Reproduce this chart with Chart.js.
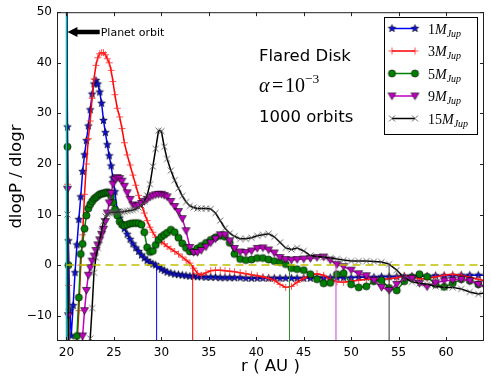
<!DOCTYPE html>
<html>
<head>
<meta charset="utf-8">
<script src="https://cdn.jsdelivr.net/npm/chart.js@4.4.1/dist/chart.umd.min.js"></script>
<style>
  html, body { margin: 0; padding: 0; background: #fff; }
  #wrap { width: 491px; height: 383px; }
</style>
</head>
<body>
<div id="wrap"><canvas id="c" width="491" height="383"></canvas></div>
<script>
// radius grid (AU), shared by all curves
const rGrid = [
  20.0, 20.1, 20.2, 20.35, 20.5, 20.7, 20.9, 21.1, 21.3, 21.5,
  21.7, 21.9, 22.1, 22.3, 22.5, 22.7, 22.9, 23.1, 23.3, 23.5,
  23.7, 23.9, 24.1, 24.3, 24.5, 24.7, 24.9, 25.1, 25.35, 25.6,
  25.85, 26.1, 26.4, 26.7, 27.0, 27.3, 27.6, 27.9, 28.2, 28.5,
  28.8, 29.1, 29.4, 29.7, 30.0, 30.3, 30.6, 31.0, 31.4, 31.8,
  32.2, 32.6, 33.0, 33.4, 33.8, 34.2, 34.7, 35.2, 35.7, 36.2,
  36.7, 37.2, 37.7, 38.3, 38.9, 39.5, 40.1, 40.7, 41.3, 41.9,
  42.5, 43.1, 43.7, 44.3, 45.0, 45.7, 46.4, 47.1, 47.8, 48.5,
  49.2, 50.0, 50.8, 51.6, 52.4, 53.2, 54.0, 54.8, 55.6, 56.4,
  57.2, 58.0, 58.9, 59.8, 60.7, 61.6, 62.5, 63.4, 64.3
];

const m1 = [
  70, 27.3, 4.8, -9, -14, -8, -1.5, 4, 9, 13.5,
  18.5, 21.8, 24.6, 27.5, 30.7, 33.8, 35.8, 36.5, 35.8, 34.2,
  32, 28.6, 26.2, 23.8, 21.6, 19.6, 17.2, 14.5, 10.8, 9.3,
  8.2, 7.2, 6.1, 5.1, 4.2, 3.4, 2.7, 2.0, 1.4, 0.9,
  0.5, 0.2, 0.0, -0.4, -0.8, -1.1, -1.4, -1.6, -1.8, -1.9,
  -2.0, -2.1, -2.2, -2.2, -2.3, -2.3, -2.4, -2.4, -2.4, -2.5,
  -2.5, -2.5, -2.5, -2.5, -2.6, -2.6, -2.6, -2.6, -2.6, -2.6,
  -2.6, -2.6, -2.6, -2.6, -2.6, -2.6, -2.5, -2.5, -2.5, -2.5,
  -2.5, -2.5, -2.4, -2.4, -2.4, -2.3, -2.3, -2.3, -2.2, -2.2,
  -2.2, -2.2, -2.1, -2.1, -2.1, -2.0, -2.0, -2.0, -2.0
];

const m3 = [
  60, 16, -4, -20, -30, -30, -25, -16, -9, 0,
  6, 14, 20, 25, 28.5, 33, 36.8, 39.5, 41, 41.8,
  42, 42, 41.6, 40.8, 40, 38.5, 36.3, 33.7, 31, 29.3,
  27, 24.2, 21.8, 19.8, 17.8, 15.8, 13.8, 12.0, 10.3, 8.8,
  7.5, 6.5, 5.5, 5.0, 4.6, 4.2, 3.7, 3.2, 2.7, 2.2,
  1.6, 1.0, 0.4, -0.6, -1.6, -2.0, -1.5, -1.1, -1.0, -1.0,
  -1.1, -1.2, -1.3, -1.5, -1.7, -1.9, -2.1, -2.3, -2.6, -3.0,
  -3.8, -4.4, -4.2, -3.4, -2.6, -2.0, -1.7, -2.0, -2.8, -3.3,
  -3.4, -3.2, -3.0, -2.8, -2.8, -2.8, -2.7, -2.5, -2.1, -2.3,
  -2.7, -2.7, -2.3, -2.0, -1.8, -2.0, -2.4, -2.8, -3.2
];

const m5 = [
  70, 23.4, 0, -20, -30, -30, -25, -14, -6.4, 2.2,
  4.2, 7.2, 9.8, 11.2, 12.0, 12.6, 13.1, 13.4, 13.7, 14.0,
  14.1, 14.2, 14.3, 14.4, 14.3, 13.6, 12.4, 11.0, 9.8, 8.6,
  8.0, 7.8, 8.0, 8.2, 8.3, 8.3, 8.3, 8.0, 6.5, 3.5,
  2.6, 2.8, 4.0, 5.0, 5.6, 6.0, 6.4, 7.0, 6.5, 5.4,
  4.3, 3.4, 2.7, 2.7, 3.3, 3.8, 4.4, 5.0, 5.5, 5.8,
  5.6, 4.4, 2.2, 1.2, 1.0, 1.1, 1.4, 1.4, 1.1, 0.8,
  0.6, 0.2, -0.6, -0.8, -1.0, -1.8, -2.8, -3.6, -3.5, -1.8,
  -1.6, -3.8, -4.4, -4.2, -3.2, -3.0, -4.5, -5.0, -3.2, -2.4,
  -1.8, -2.3, -3.8, -4.3, -3.6, -2.8, -3.1, -3.8, -4.3
];

const m9 = [
  70, 15, -10, -30, -40, -45, -45, -40, -35, -28,
  -14, -9, -5, -2, -0.5, 0.8, 1.8, 2.9, 4.0, 5.0,
  6.1, 7.1, 8.6, 10.3, 12.3, 14.2, 16.0, 17.0, 17.3, 17.1,
  16.6, 15.6, 14.3, 13.0, 11.9, 11.6, 11.8, 12.2, 12.6, 13.0,
  13.4, 13.7, 13.9, 14.0, 14.0, 13.8, 13.5, 12.6, 11.6, 10.6,
  9.2, 6.8, 3.5, 2.5, 2.5, 2.9, 3.6, 4.4, 5.2, 6.0,
  6.0, 4.8, 3.3, 2.6, 2.5, 2.8, 3.3, 3.4, 3.0, 2.4,
  1.5, 1.1, 1.0, 1.1, 1.2, 1.3, 1.5, 1.6, 1.0, 0.1,
  -0.3, -1.0, -1.7, -2.1, -3.0, -4.4, -5.0, -3.8, -2.6, -2.6,
  -3.6, -4.3, -3.5, -3.1, -3.0, -2.8, -3.1, -3.8, -4.6
];

const m15 = [
  70, 10, -20, -40, -50, -55, -55, -50, -45, -42,
  -40, -35, -28, -20, -14.5, -8.5, -1.5, 1.5, 3.4, 5.0,
  6.8, 8.7, 9.6, 10.1, 10.3, 10.4, 10.4, 10.4, 10.5, 10.5,
  10.5, 10.6, 10.7, 10.8, 10.9, 11.1, 11.4, 11.8, 12.6, 13.8,
  16.0, 19.5, 23.0, 26.6, 26.5, 23.4, 21.0, 18.7, 16.8, 15.2,
  13.7, 12.5, 11.7, 11.4, 11.2, 11.2, 11.2, 11.1, 10.3, 8.8,
  7.3, 6.3, 5.7, 5.2, 5.2, 5.4, 5.8, 6.0, 6.2, 5.6,
  4.5, 3.4, 3.1, 3.4, 2.8, 1.9, 1.7, 1.6, 1.4, 1.2,
  1.0, 0.8, 0.8, 0.8, 0.7, 0.6, 0.2, -1.0, -2.5, -3.3,
  -3.6, -3.8, -4.2, -4.4, -4.4, -4.7, -5.3, -5.7, -5.4
];

const massLabels = ['1', '3', '5', '9', '15'];
const zeroCross = [29.5, 33.3, 43.5, 48.4, 54.0];
const planetR = 20;
const xTicks = [20, 25, 30, 35, 40, 45, 50, 55, 60];
const yTicks = [-10, 0, 10, 20, 30, 40, 50];

const colors = ['#0000ff', '#ff0000', '#008000', '#bf00bf', '#000000'];
const vColors = ['#0000ff', '#ff0000', '#2e8b2e', '#d040d0', '#333333'];

// matplotlib-ish markers drawn on small canvases
function makeMarker(kind) {
  const c = document.createElement('canvas');
  c.width = 11;
  c.height = 11;
  const g = c.getContext('2d');
  const m = 5.5;
  g.lineJoin = 'miter';
  if (kind === 'star') {
    g.beginPath();
    for (let i = 0; i < 10; i++) {
      const rad = i % 2 === 0 ? 4.0 : 1.7;
      const a = -Math.PI / 2 + (i * Math.PI) / 5;
      g.lineTo(m + rad * Math.cos(a), m + rad * Math.sin(a));
    }
    g.closePath();
    g.fillStyle = '#1010e0';
    g.fill();
    g.strokeStyle = '#000';
    g.lineWidth = 0.6;
    g.stroke();
  } else if (kind === 'plus') {
    g.strokeStyle = 'rgba(255,40,40,0.8)';
    g.lineWidth = 1;
    g.beginPath();
    g.moveTo(m - 3.5, m);
    g.lineTo(m + 3.5, m);
    g.moveTo(m, m - 3.5);
    g.lineTo(m, m + 3.5);
    g.stroke();
  } else if (kind === 'circle') {
    g.beginPath();
    g.arc(m, m, 3.6, 0, Math.PI * 2);
    g.fillStyle = '#008000';
    g.fill();
    g.strokeStyle = '#000';
    g.lineWidth = 0.6;
    g.stroke();
  } else if (kind === 'tri') {
    g.beginPath();
    g.moveTo(m - 4, m - 3);
    g.lineTo(m + 4, m - 3);
    g.lineTo(m, m + 3.8);
    g.closePath();
    g.fillStyle = '#bf00bf';
    g.fill();
    g.strokeStyle = '#000';
    g.lineWidth = 0.6;
    g.stroke();
  } else {
    g.strokeStyle = '#555';
    g.lineWidth = 0.9;
    g.beginPath();
    g.moveTo(m - 3, m - 3);
    g.lineTo(m + 3, m + 3);
    g.moveTo(m + 3, m - 3);
    g.lineTo(m - 3, m + 3);
    g.stroke();
  }
  return c;
}

const markers = ['star', 'plus', 'circle', 'tri', 'x'].map(makeMarker);
const series = [m1, m3, m5, m9, m15];

const datasets = series.map((vals, i) => ({
  label: massLabels[i],
  data: rGrid.map((r, k) => ({ x: r, y: vals[k] })),
  borderColor: colors[i],
  borderWidth: 1.5,
  pointStyle: markers[i],
  pointRadius: 4,
  tension: 0,
  order: 20 - i,
}));

zeroCross.forEach((r, i) => {
  datasets.push({
    data: [{ x: r, y: -15 }, { x: r, y: 0 }],
    borderColor: vColors[i],
    borderWidth: 1,
    pointRadius: 0,
    order: 10 - i,
  });
});

datasets.push({
  data: [{ x: planetR, y: -15 }, { x: planetR, y: 50 }],
  borderColor: '#00bfbf',
  borderWidth: 1.5,
  pointRadius: 0,
  order: 2,
});

datasets.push({
  data: [{ x: planetR, y: 0 }, { x: 64, y: 0 }],
  borderColor: '#bfbf00',
  borderWidth: 1.5,
  borderDash: [8, 5],
  pointRadius: 0,
  order: 1,
});

const decor = {
  id: 'decor',
  afterDatasetsDraw(chart) {
    const { ctx, chartArea: a, scales } = chart;
    const xs = scales.x;
    const ys = scales.y;
    ctx.save();
    // frame
    ctx.strokeStyle = '#222';
    ctx.lineWidth = 1;
    ctx.strokeRect(a.left + 0.5, a.top + 0.5, a.right - a.left - 1, a.bottom - a.top - 1);
    // inward ticks
    ctx.beginPath();
    xTicks.forEach((v) => {
      const px = Math.round(xs.getPixelForValue(v)) + 0.5;
      ctx.moveTo(px, a.bottom);
      ctx.lineTo(px, a.bottom - 4);
      ctx.moveTo(px, a.top);
      ctx.lineTo(px, a.top + 4);
    });
    yTicks.forEach((v) => {
      const py = Math.round(ys.getPixelForValue(v)) + 0.5;
      ctx.moveTo(a.left, py);
      ctx.lineTo(a.left + 4, py);
      ctx.moveTo(a.right, py);
      ctx.lineTo(a.right - 4, py);
    });
    ctx.stroke();

    // planet orbit arrow
    const tipX = xs.getPixelForValue(20.1);
    const tailX = xs.getPixelForValue(23.5);
    const ay = ys.getPixelForValue(46.1);
    ctx.fillStyle = '#000';
    ctx.beginPath();
    ctx.moveTo(tipX, ay);
    ctx.lineTo(tipX + 10, ay - 5);
    ctx.lineTo(tipX + 10, ay - 2.3);
    ctx.lineTo(tailX, ay - 2.3);
    ctx.lineTo(tailX, ay + 2.3);
    ctx.lineTo(tipX + 10, ay + 2.3);
    ctx.lineTo(tipX + 10, ay + 5);
    ctx.closePath();
    ctx.fill();
    ctx.font = '11px "DejaVu Sans"';
    ctx.textBaseline = 'alphabetic';
    ctx.fillText('Planet orbit', tailX + 1, ay + 4);

    // annotation text
    ctx.font = '16.5px "DejaVu Sans"';
    ctx.fillText('Flared Disk', 259, 61);
    ctx.fillText('1000 orbits', 259, 122);
    ctx.font = 'italic 20px "Liberation Serif"';
    ctx.fillText('\u03b1', 259, 92);
    ctx.font = '20px "Liberation Serif"';
    ctx.fillText('=', 272, 92);
    ctx.fillText('10', 285, 92);
    ctx.font = '13.5px "Liberation Serif"';
    ctx.fillText('\u22123', 305, 83);

    ctx.restore();
  },
  afterDraw(chart) {
    const { ctx } = chart;
    ctx.save();
    ctx.fillStyle = '#fff';
    ctx.fillRect(384, 17, 93, 117);
    ctx.strokeStyle = '#000';
    ctx.lineWidth = 1;
    ctx.strokeRect(384.5, 17.5, 93, 117);
    massLabels.forEach((lab, i) => {
      const y = 28.5 + 22.5 * i;
      ctx.strokeStyle = colors[i];
      ctx.lineWidth = 1.5;
      ctx.beginPath();
      ctx.moveTo(392, y);
      ctx.lineTo(415, y);
      ctx.stroke();
      [392, 415].forEach((mx) => {
        ctx.drawImage(markers[i], mx - 5.5, y - 5.5);
      });
      let x = 428;
      ctx.fillStyle = '#000';
      ctx.font = '14px "Liberation Serif"';
      ctx.fillText(lab, x, y + 5);
      x += ctx.measureText(lab).width;
      ctx.font = 'italic 14px "Liberation Serif"';
      ctx.fillText('M', x, y + 5);
      x += ctx.measureText('M').width;
      ctx.font = 'italic 10px "Liberation Serif"';
      ctx.fillText('Jup', x, y + 8);
    });
    ctx.restore();
  },
};

new Chart(document.getElementById('c'), {
  type: 'line',
  data: { datasets },
  options: {
    responsive: false,
    animation: false,
    devicePixelRatio: 1,
    layout: { padding: { left: 0, right: 7, top: 10, bottom: 0 } },
    plugins: { legend: { display: false }, tooltip: { enabled: false } },
    scales: {
      x: {
        type: 'linear',
        min: 19,
        max: 64,
        afterBuildTicks: (s) => {
          s.ticks = xTicks.map((v) => ({ value: v }));
        },
        afterFit: (s) => {
          s.height = 42;
        },
        grid: { display: false, drawTicks: false },
        border: { display: false },
        ticks: {
          color: '#000',
          padding: 5,
          maxRotation: 0,
          font: { family: 'DejaVu Sans', size: 12 },
        },
        title: {
          display: true,
          text: 'r ( AU )',
          color: '#000',
          font: { family: 'DejaVu Sans', size: 16.5 },
          padding: { top: 0, bottom: 6 },
        },
      },
      y: {
        type: 'linear',
        min: -15,
        max: 50,
        afterBuildTicks: (s) => {
          s.ticks = yTicks.map((v) => ({ value: v }));
        },
        afterFit: (s) => {
          s.width = 57;
        },
        grid: { display: false, drawTicks: false },
        border: { display: false },
        ticks: {
          color: '#000',
          padding: 5,
          font: { family: 'DejaVu Sans', size: 12 },
          callback: (v) => (v < 0 ? '\u2212' + Math.abs(v) : String(v)),
        },
        title: {
          display: true,
          text: 'dlogP / dlogr',
          color: '#000',
          font: { family: 'DejaVu Sans', size: 16.5 },
          padding: { top: 7, bottom: 0 },
        },
      },
    },
  },
  plugins: [decor],
});
</script>
</body>
</html>
